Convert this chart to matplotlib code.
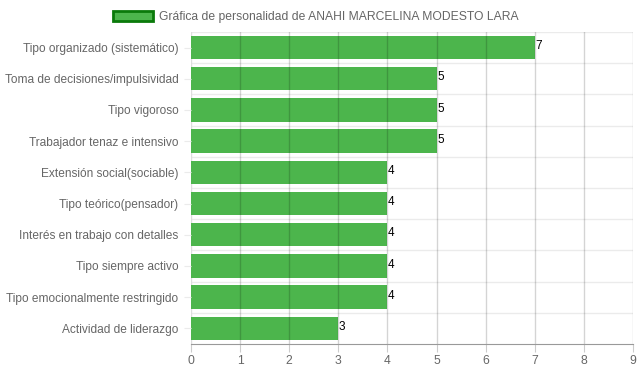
import matplotlib

matplotlib.use("Agg")
import matplotlib.pyplot as plt
from matplotlib.patches import Patch

categories = [
    "Tipo organizado (sistemático)",
    "Toma de decisiones/impulsividad",
    "Tipo vigoroso",
    "Trabajador tenaz e intensivo",
    "Extensión social(sociable)",
    "Tipo teórico(pensador)",
    "Interés en trabajo con detalles",
    "Tipo siempre activo",
    "Tipo emocionalmente restringido",
    "Actividad de liderazgo",
]
values = [7, 5, 5, 5, 4, 4, 4, 4, 4, 3]
x_ticks = list(range(0, 10))
title = "Gráfica de personalidad de ANAHI MARCELINA MODESTO LARA"

BAR_COLOR = "#4cb54c"
EDGE_COLOR = "#0a7a0a"

plt.rcParams["font.family"] = ["Liberation Sans", "DejaVu Sans"]

fig = plt.figure(figsize=(6.39, 3.72), dpi=100)
ax = fig.add_axes([0.2989, 0.0753, 0.6917, 0.8387])

y = list(range(len(categories)))
ax.barh(y, values, height=0.75, color=BAR_COLOR, zorder=1)
for yi, v in zip(y, values):
    ax.text(v + 0.01, yi - 0.24, str(v), ha="left", va="top",
            fontsize=8.5, color="black", zorder=3)

ax.set_xlim(0, 9)
ax.set_ylim(len(categories) - 0.5, -0.5)
ax.set_xticks(x_ticks)
ax.set_yticks(y)
ax.set_yticklabels(categories)

# grid: vertical lines over the bars, horizontal category separators light
for xv in x_ticks[1:]:
    ax.axvline(xv, color=(0, 0, 0, 0.17), lw=1, zorder=2)
for b in range(len(categories)):
    ax.axhline(b - 0.5, color="#ebebeb", lw=1, zorder=0)

for s in ["top", "right", "left"]:
    ax.spines[s].set_visible(False)
ax.spines["bottom"].set_color("#999999")
ax.axvline(0, color="#dddddd", lw=1, zorder=0)

ax.tick_params(axis="x", colors="#666666", labelsize=8.7, length=6, color="#cccccc", pad=2)
ax.tick_params(axis="y", colors="#666666", labelsize=8.6, length=5, color="#ebebeb", pad=4)
for lbl in ax.get_xticklabels() + ax.get_yticklabels():
    lbl.set_color("#666666")

handle = Patch(facecolor=BAR_COLOR, edgecolor=EDGE_COLOR, linewidth=2)
fig.legend([handle], [title], loc="upper center", bbox_to_anchor=(0.494, 1.0),
           frameon=False, fontsize=8.7, handlelength=3.3, handleheight=0.9,
           handletextpad=0.5, labelcolor="#666666")

fig.savefig("out.png", dpi=100)
